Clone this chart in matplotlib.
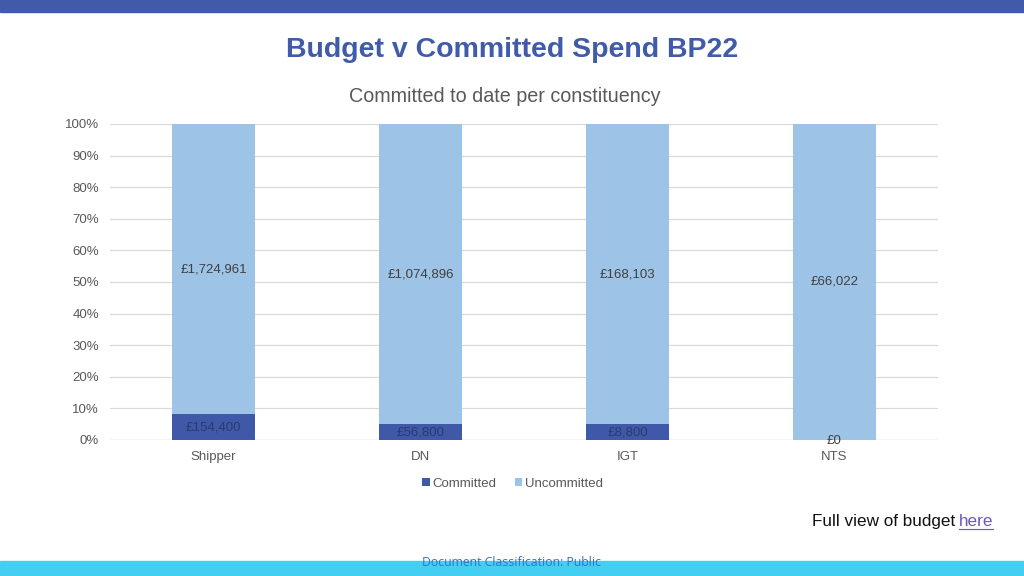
import numpy as np
import matplotlib
matplotlib.use('Agg')
import matplotlib.pyplot as plt
from matplotlib.patches import Rectangle

plt.rcParams['font.family'] = ['Liberation Sans', 'DejaVu Sans']

categories = ['Shipper', 'DN', 'IGT', 'NTS']
committed = [154400, 56800, 8800, 0]
uncommitted = [1724961, 1074896, 168103, 66022]
yticks = [0, 10, 20, 30, 40, 50, 60, 70, 80, 90, 100]

c_comm = '#4058A8'
c_uncomm = '#9DC3E6'
grey = '#595959'

committed = np.array(committed, dtype=float)
uncommitted = np.array(uncommitted, dtype=float)
total = committed + uncommitted
pct_c = committed / total * 100
pct_u = uncommitted / total * 100

fig = plt.figure(figsize=(10.24, 5.76), dpi=100)
fig.patch.set_facecolor('white')

# bandes haut et bas
fig.add_artist(Rectangle((0, 1 - 12/576), 1, 12/576, transform=fig.transFigure, color='#3F5BA9', zorder=0))
fig.add_artist(Rectangle((0, 0), 1, 15/576, transform=fig.transFigure, color='#44CEF2', zorder=0))

fig.text(512/1024, 1 - 50/576, 'Budget v Committed Spend BP22', ha='center', va='center',
         fontsize=20.5, fontweight='bold', color='#3F5BA9')
fig.text(505/1024, 1 - 97/576, 'Committed to date per constituency', ha='center', va='center',
         fontsize=14.2, color=grey)

ax = fig.add_axes([110/1024, 1 - 440/576, 828/1024, 316/576])
x = np.arange(len(categories))
w = 0.4
ax.bar(x, pct_c, w, color=c_comm, label='Committed', zorder=2)
ax.bar(x, pct_u, w, bottom=pct_c, color=c_uncomm, label='Uncommitted', zorder=2)

for i in range(len(categories)):
    ax.text(x[i], pct_c[i] + pct_u[i] / 2, '£{:,.0f}'.format(uncommitted[i]),
            ha='center', va='center', fontsize=9.5, color='#404040', zorder=3)
    if committed[i] > 0:
        ax.text(x[i], pct_c[i] / 2, '£{:,.0f}'.format(committed[i]),
                ha='center', va='center', fontsize=9.5, color='#2a3b70', zorder=3)
    else:
        ax.text(x[i], -0.3, '£{:,.0f}'.format(committed[i]),
                ha='center', va='center', fontsize=9.5, color='#404040', zorder=3)

ax.set_xlim(-0.5, 3.5)
ax.set_ylim(0, 100)
ax.set_yticks(yticks)
ax.set_yticklabels([str(t) + '%' for t in yticks])
ax.set_xticks(x)
ax.set_xticklabels(categories)
ax.tick_params(axis='both', length=0, labelsize=9.5, labelcolor=grey)
ax.tick_params(axis='y', pad=8)
ax.tick_params(axis='x', pad=8)
ax.yaxis.grid(True, color='#D9D9D9', linewidth=0.9, zorder=0)
for s in ax.spines.values():
    s.set_visible(False)
ax.axhline(0, color='#D9D9D9', linewidth=0.9, zorder=1)

ax.legend(loc='upper center', bbox_to_anchor=(0.486, -0.083), ncol=2, frameon=False,
          fontsize=9.5, labelcolor=grey, handlelength=0.55, handleheight=0.55,
          handletextpad=0.2, columnspacing=1.4)

fig.text(955/1024, 1 - 526/576, 'Full view of budget', ha='right', va='baseline',
         fontsize=12.3, color='#111111')
fig.text(959/1024, 1 - 526/576, 'here', ha='left', va='baseline', fontsize=12.3, color='#7155C0')
fig.add_artist(plt.Line2D([959/1024, 993/1024], [1 - 529/576, 1 - 529/576],
                          transform=fig.transFigure, color='#7155C0', linewidth=0.8))

fig.text(512/1024, 1 - 562/576, 'Document Classification: Public', ha='center', va='center',
         fontsize=8.8, color='#3A6FC4', family=['Open Sans', 'DejaVu Sans'])

fig.savefig('out.png', dpi=100)
